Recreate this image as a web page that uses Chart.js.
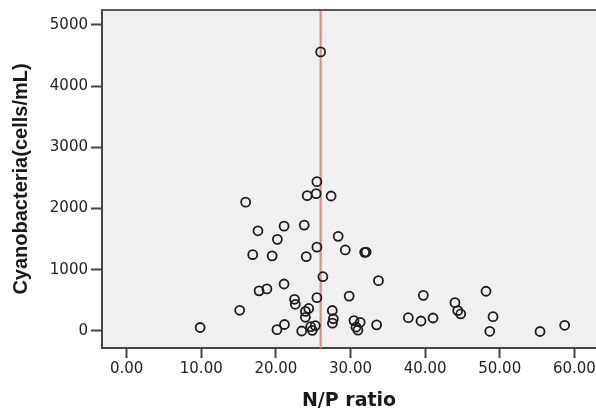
<!DOCTYPE html>
<html>
<head>
<meta charset="utf-8">
<script src="https://cdn.jsdelivr.net/npm/chart.js@4.4.1/dist/chart.umd.min.js"></script>
<style>
  html, body { margin: 0; padding: 0; background: #ffffff; }
  #wrap { width: 596px; height: 414px; }
</style>
</head>
<body>
<div id="wrap"><canvas id="c" width="596" height="414"></canvas></div>
<script>
// ---- data ----
const npRatio = [26.0, 15.95, 25.5, 24.2, 25.4, 27.4, 17.6, 21.1, 23.8, 20.2,
  28.35, 25.5, 29.3, 31.9, 32.1, 16.9, 19.5, 24.07, 26.3, 17.75,
  18.8, 21.1, 29.82, 25.5, 22.5, 22.6, 15.15, 24.4, 23.96, 23.95,
  27.56, 27.7, 27.58, 9.85, 21.15, 20.15, 23.46, 24.66, 25.28, 24.88,
  30.47, 31.3, 30.74, 31.0, 33.5, 33.75, 37.75, 39.45, 41.06, 39.76,
  44.0, 44.37, 44.77, 48.16, 49.1, 48.66, 55.4, 58.7];
const cyanobacteria = [4560, 2105, 2440, 2211, 2244, 2206, 1637, 1713, 1730, 1498,
  1547, 1370, 1324, 1285, 1290, 1247, 1228, 1214, 887, 656,
  688, 768, 570, 545, 518, 436, 338, 368, 320, 224,
  335, 200, 128, 57, 106, 22, 0, 70, 87, 10,
  170, 142, 62, 14, 100, 822, 217, 163, 212, 583,
  463, 332, 278, 649, 234, -5, -8, 93];
const referenceRatio = 26;
const xTickValues = [0, 10, 20, 30, 40, 50, 60];
const yTickValues = [0, 1000, 2000, 3000, 4000, 5000];
const xRange = [-3.3, 62.9];
const yRange = [-278, 5245];
const xTitle = 'N/P ratio';
const yTitle = 'Cyanobacteria(cells/mL)';

const points = npRatio.map((x, i) => ({ x: x, y: cyanobacteria[i] }));
const refLine = [{ x: referenceRatio, y: yRange[0] }, { x: referenceRatio, y: yRange[1] }];

const frame = {
  id: 'frame',
  beforeDraw(chart) {
    const { ctx, chartArea: a } = chart;
    ctx.save();
    ctx.fillStyle = '#f0f0f0';
    ctx.fillRect(a.left, a.top, a.right - a.left, a.bottom - a.top);
    ctx.restore();
  },
  afterDraw(chart) {
    const { ctx, chartArea: a } = chart;
    ctx.save();
    ctx.strokeStyle = '#5a5a5a';
    ctx.lineWidth = 2;
    ctx.beginPath();
    ctx.moveTo(a.left, a.top);
    ctx.lineTo(a.right, a.top);
    ctx.stroke();
    ctx.restore();
  }
};

new Chart(document.getElementById('c'), {
  type: 'scatter',
  data: {
    datasets: [
      {
        type: 'scatter',
        data: points,
        pointStyle: 'circle',
        pointRadius: 4.5,
        pointBorderWidth: 1.8,
        pointBorderColor: '#1c1c1c',
        pointBackgroundColor: 'rgba(0,0,0,0)',
        order: 0
      },
      {
        type: 'line',
        data: refLine,
        borderColor: '#f08585',
        borderWidth: 2.2,
        pointRadius: 0,
        fill: false,
        order: 1
      }
    ]
  },
  options: {
    responsive: false,
    animation: false,
    devicePixelRatio: 1,
    layout: { autoPadding: false, padding: { top: 10, right: 0, left: 0, bottom: 0 } },
    plugins: { legend: { display: false }, tooltip: { enabled: false } },
    scales: {
      x: {
        type: 'linear',
        min: xRange[0],
        max: xRange[1],
        afterBuildTicks: s => { s.ticks = xTickValues.map(v => ({ value: v })); },
        afterFit: s => { s.height = 66; s.paddingLeft = 0; s.paddingRight = 0; },
        grid: { drawOnChartArea: false, drawTicks: true, tickLength: 10, tickColor: '#444', tickWidth: 2 },
        border: { display: true, color: '#444', width: 2 },
        ticks: {
          color: '#222',
          font: { family: 'DejaVu Sans', size: 15 },
          padding: 2,
          maxRotation: 0,
          callback: v => Number(v).toFixed(2)
        },
        title: {
          display: true,
          text: xTitle,
          color: '#1a1a1a',
          font: { family: 'DejaVu Sans', size: 19, weight: 'bold', lineHeight: 1.2 },
          padding: { top: 0, bottom: 2 }
        }
      },
      y: {
        type: 'linear',
        min: yRange[0],
        max: yRange[1],
        afterBuildTicks: s => { s.ticks = yTickValues.map(v => ({ value: v })); },
        afterFit: s => { s.width = 102; s.paddingTop = 0; s.paddingBottom = 0; },
        grid: { drawOnChartArea: false, drawTicks: true, tickLength: 11, tickColor: '#444', tickWidth: 2 },
        border: { display: true, color: '#444', width: 2 },
        ticks: {
          color: '#222',
          font: { family: 'DejaVu Sans', size: 15 },
          padding: 3,
          callback: v => String(v)
        },
        title: {
          display: true,
          text: yTitle,
          color: '#1a1a1a',
          font: { family: 'Liberation Sans', size: 20, weight: 'bold', lineHeight: 1.2 },
          padding: { top: 9, bottom: 0 }
        }
      }
    }
  },
  plugins: [frame]
});
</script>
</body>
</html>
